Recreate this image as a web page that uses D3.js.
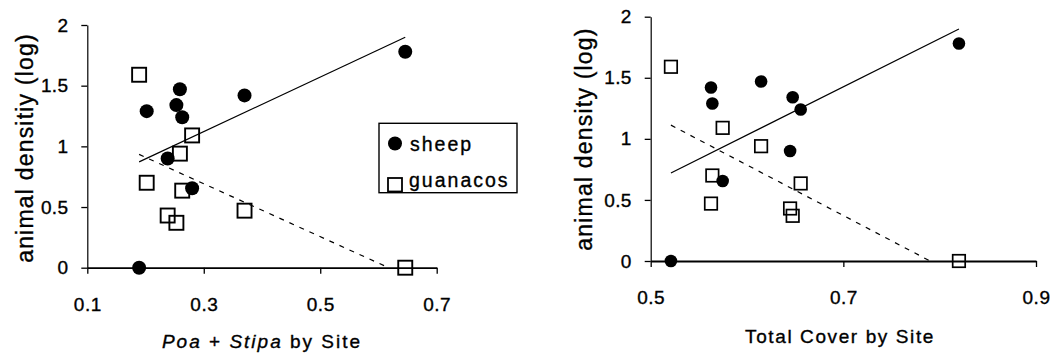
<!DOCTYPE html>
<html><head><meta charset="utf-8">
<script src="https://cdn.jsdelivr.net/npm/d3@7"></script>
<style>
body{margin:0;background:#fff}
svg{display:block}
text{font-family:"Liberation Sans",Arial,sans-serif;fill:#000;stroke:#000;stroke-width:0.35px}
</style>
</head><body>
<svg id="c" width="1053" height="354"></svg>
<script>
// ---- data (one value per site) ----
const poaStipa   = [0.189, 0.202, 0.238, 0.253, 0.259, 0.263, 0.280, 0.370, 0.646];
const totalCover = [0.521, 0.564, 0.6447, 0.6474, 0.6146, 0.6557, 0.5747, 0.5626, 0.820];
const sheep      = [0, 1.29, 0.90, 1.34, 1.47, 1.24, 0.655, 1.42, 1.78];
const guanacos   = [1.59, 0.70, 0.43, 0.37, 0.94, 0.635, 1.09, 0.47, 0];
const yTicks      = [0, 0.5, 1, 1.5, 2];
const leftXTicks  = [0.1, 0.3, 0.5, 0.7];
const rightXTicks = [0.5, 0.7, 0.9];
const seriesNames = ["sheep", "guanacos"];

const svg = d3.select("#c");

function ols(xs, ys) {
  const mx = d3.mean(xs), my = d3.mean(ys);
  let sxy = 0, sxx = 0;
  xs.forEach((v, i) => { sxy += (v - mx) * (ys[i] - my); sxx += (v - mx) * (v - mx); });
  const m = sxy / sxx;
  return { m, b: my - m * mx };
}

function trend(xs, ys) {
  const { m, b } = ols(xs, ys);
  let x0 = d3.min(xs), x1 = d3.max(xs);
  const f = v => m * v + b;
  if (f(x1) < 0) x1 = -b / m;
  if (f(x0) < 0) x0 = -b / m;
  return [[x0, f(x0)], [x1, f(x1)]];
}

function panel(cfg) {
  const x = d3.scaleLinear().domain(cfg.xDomain).range(cfg.xRange);
  const y = d3.scaleLinear().domain([0, 2]).range(cfg.yRange);
  const g = svg.append("g");

  const gx = g.append("g").attr("transform", `translate(0,${y(0)})`)
    .call(d3.axisBottom(x).tickValues(cfg.xTicks).tickSize(6).tickSizeOuter(0).tickFormat(d => String(d)));
  gx.select(".domain").attr("stroke-width", 1.8).attr("stroke", "#000");
  gx.selectAll(".tick line").attr("stroke-width", 1.3).attr("stroke", "#000");
  gx.selectAll(".tick text").attr("font-size", 19).attr("y", 30).attr("letter-spacing", 0.5)
    .attr("font-family", null);

  const gy = g.append("g").attr("transform", `translate(${x(cfg.xDomain[0])},0)`)
    .call(d3.axisLeft(y).tickValues(yTicks).tickSize(6).tickSizeOuter(0).tickFormat(d => String(d)));
  gy.select(".domain").attr("stroke-width", 1.2).attr("stroke", "#000");
  gy.selectAll(".tick line").attr("stroke-width", 1.3).attr("stroke", "#000");
  gy.selectAll(".tick text").attr("font-size", 19).attr("x", -19).attr("letter-spacing", 0.3)
    .attr("font-family", null);

  const line = d3.line().x(d => x(d[0])).y(d => y(d[1]));
  g.append("path").attr("d", line(trend(cfg.xs, sheep)))
    .attr("fill", "none").attr("stroke", "#000").attr("stroke-width", 1.2);
  g.append("path").attr("d", line(trend(cfg.xs, guanacos)))
    .attr("fill", "none").attr("stroke", "#000").attr("stroke-width", 1.2)
    .attr("stroke-dasharray", "5,6");

  const s = cfg.sq;
  g.selectAll(".gq").data(cfg.xs.map((v, i) => [v, guanacos[i]])).enter()
    .append("rect").attr("x", d => x(d[0]) - s / 2).attr("y", d => y(d[1]) - s / 2)
    .attr("width", s).attr("height", s).attr("fill", "none").attr("stroke", "#000")
    .attr("stroke-width", cfg.sqw);
  g.selectAll(".sh").data(cfg.xs.map((v, i) => [v, sheep[i]])).enter()
    .append("circle").attr("cx", d => x(d[0])).attr("cy", d => y(d[1]))
    .attr("r", cfg.r).attr("fill", "#000");

  // y title
  g.append("text").attr("transform", `translate(${cfg.yTitle[0]},${cfg.yTitle[1]}) rotate(-90)`)
    .attr("text-anchor", "middle").attr("font-size", 23).attr("letter-spacing", 1.2)
    .text(cfg.yTitleText);
  return { g, x, y };
}

// Left panel
const L = panel({
  xDomain: [0.1, 0.7], xRange: [87.3, 436.7], yRange: [267.7, 25],
  xTicks: leftXTicks, xs: poaStipa, r: 7, sq: 14, sqw: 1.9,
  yTitle: [33, 148], yTitleText: "animal densitiy (log)"
});
const xt = L.g.append("text").attr("x", 262).attr("y", 348).attr("text-anchor", "middle")
  .attr("font-size", 19).attr("letter-spacing", 2);
xt.append("tspan").attr("font-style", "italic").text("Poa");
xt.append("tspan").text(" + ");
xt.append("tspan").attr("font-style", "italic").text("Stipa");
xt.append("tspan").text(" by Site");

// Legend
const lg = L.g.append("g");
lg.append("rect").attr("x", 379).attr("y", 123.3).attr("width", 138).attr("height", 69.4)
  .attr("fill", "#fff").attr("stroke", "#000").attr("stroke-width", 1.4);
lg.append("circle").attr("cx", 395).attr("cy", 143.5).attr("r", 7).attr("fill", "#000");
lg.append("rect").attr("x", 388).attr("y", 178).attr("width", 14).attr("height", 13.5)
  .attr("fill", "none").attr("stroke", "#000").attr("stroke-width", 1.8);
lg.append("text").attr("x", 410).attr("y", 150.5).attr("font-size", 19.5).attr("letter-spacing", 2).text(seriesNames[0]);
lg.append("text").attr("x", 409).attr("y", 187).attr("font-size", 19.5).attr("letter-spacing", 2).text(seriesNames[1]);

// Right panel
const R = panel({
  xDomain: [0.5, 0.9], xRange: [650.7, 1036], yRange: [261, 16.7],
  xTicks: rightXTicks, xs: totalCover, r: 6.3, sq: 12.5, sqw: 1.7,
  yTitle: [592, 139], yTitleText: "animal density (log)"
});
R.g.append("text").attr("x", 840).attr("y", 343).attr("text-anchor", "middle")
  .attr("font-size", 19).attr("letter-spacing", 1.6).text("Total Cover by Site");
</script>
</body></html>
